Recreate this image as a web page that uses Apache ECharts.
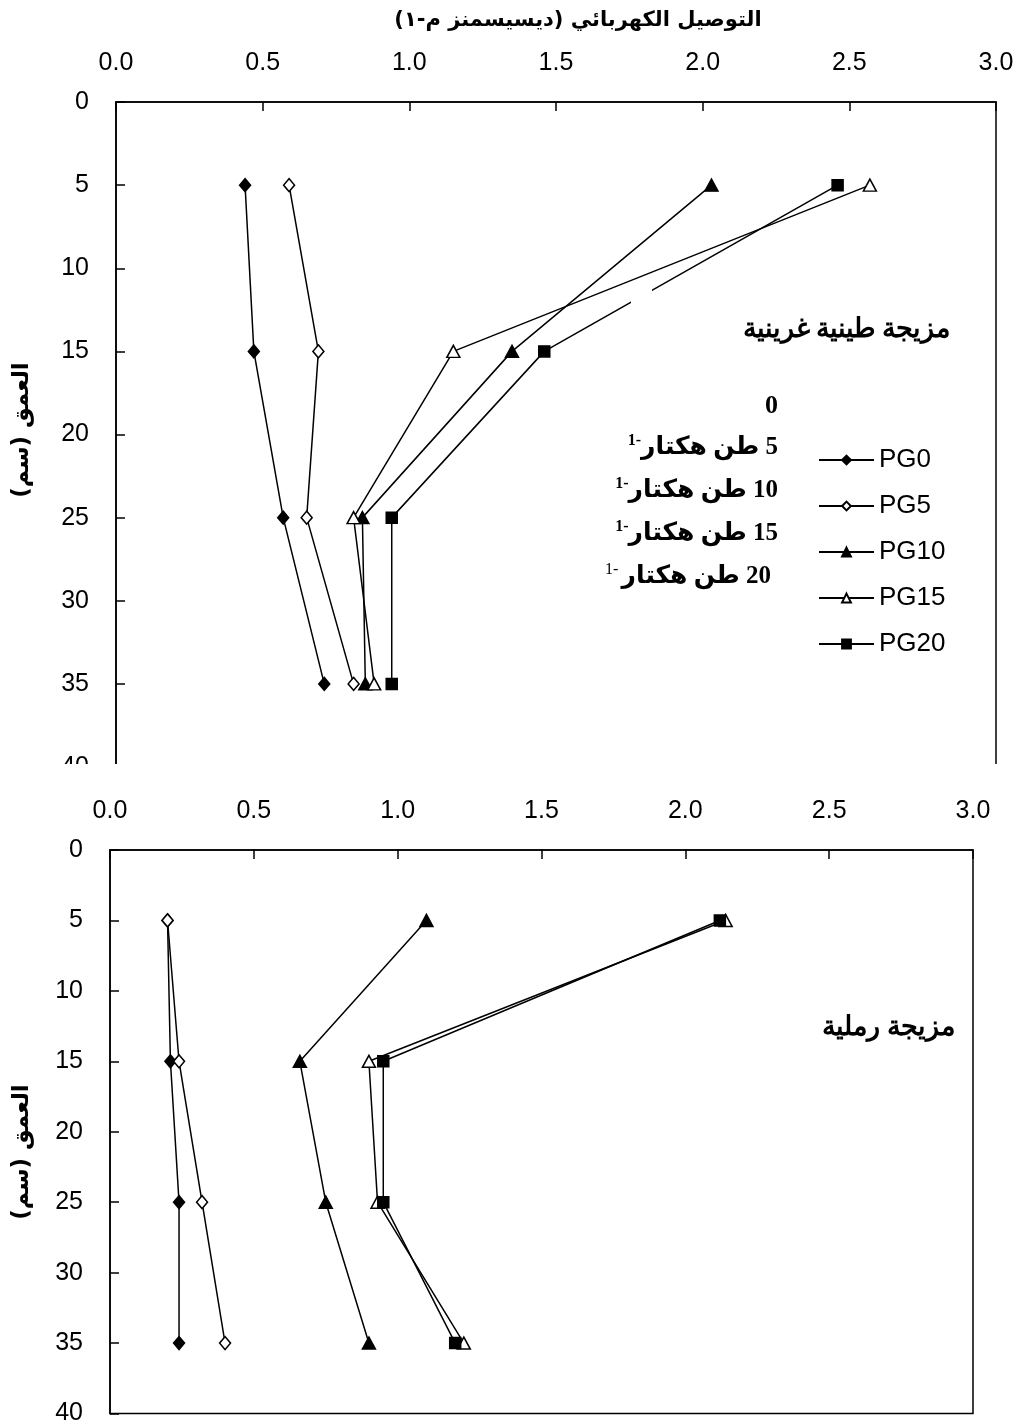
<!DOCTYPE html>
<html>
<head>
<meta charset="utf-8">
<script src="https://cdn.jsdelivr.net/npm/echarts@6/dist/echarts.min.js"></script>
<style>
html,body{margin:0;padding:0;background:#fff;}
#chart{width:1017px;height:1426px;}
</style>
</head>
<body>
<div id="chart"></div>
<script>
// ---- data ----
const depths = [5, 15, 25, 35];
const seriesNames = ['PG0', 'PG5', 'PG10', 'PG15', 'PG20'];
const xTickLabels = ['0.0', '0.5', '1.0', '1.5', '2.0', '2.5', '3.0'];
const yTickLabels = ['0', '5', '10', '15', '20', '25', '30', '35', '40'];

// top panel: clay-silt mixture
const loamPG0  = [0.44, 0.47, 0.57, 0.71];
const loamPG5  = [0.59, 0.69, 0.65, 0.81];
const loamPG10 = [2.03, 1.35, 0.84, 0.85];
const loamPG15 = [2.57, 1.15, 0.81, 0.88];
const loamPG20 = [2.46, 1.46, 0.94, 0.94];

// bottom panel: sandy mixture
const sandPG0  = [0.20, 0.21, 0.24, 0.24];
const sandPG5  = [0.20, 0.24, 0.32, 0.40];
const sandPG10 = [1.10, 0.66, 0.75, 0.90];
const sandPG15 = [2.14, 0.90, 0.93, 1.23];
const sandPG20 = [2.12, 0.95, 0.95, 1.20];

const xTitle = 'التوصيل الكهربائي (ديسيسمنز م-١)';
const yTitle = 'العمق (سم)';
const loamLabel = 'مزيجة طينية غرينية';
const sandLabel = 'مزيجة رملية';
const rateLines = ['5 طن هكتار', '10 طن هكتار', '15 طن هكتار', '20 طن هكتار'];
const rateZero = '0';
const supText = '1-';

const RLE = '\u202B', PDF = '\u202C';
const rtl = s => RLE + s + PDF;

// ---- styling ----
const markerStyles = {
  PG0:  {symbol: 'diamond',  size: [11, 13], fill: '#000'},
  PG5:  {symbol: 'diamond',  size: [11, 13], fill: '#fff'},
  PG10: {symbol: 'triangle', size: [13, 12], fill: '#000'},
  PG15: {symbol: 'triangle', size: [13, 12], fill: '#fff'},
  PG20: {symbol: 'rect',     size: [11, 11], fill: '#000'}
};

function mkSeries(name, vals, idx) {
  const m = markerStyles[name];
  return {
    name: name,
    type: 'line',
    xAxisIndex: idx, yAxisIndex: idx,
    data: depths.map((d, i) => [vals[i], d]),
    symbol: m.symbol,
    symbolSize: m.size,
    showAllSymbol: true,
    lineStyle: {color: '#000', width: 1.5},
    itemStyle: {color: m.fill, borderColor: '#000', borderWidth: 1.5},
    emphasis: {disabled: true},
    animation: false
  };
}

const tickFont = {fontSize: 25, color: '#000', fontFamily: 'Liberation Sans'};

function mkX(idx) {
  return {
    gridIndex: idx, type: 'value', position: 'top',
    min: 0, max: 3, interval: 0.5,
    axisLine: {show: true, lineStyle: {color: '#000', width: 1.5}},
    axisTick: {show: true, inside: true, length: 9, lineStyle: {color: '#000', width: 1.5}},
    axisLabel: Object.assign({margin: 26, formatter: v => xTickLabels[Math.round(v / 0.5)]}, tickFont),
    splitLine: {show: false}
  };
}
function mkY(idx) {
  return {
    gridIndex: idx, type: 'value', inverse: true,
    min: 0, max: 40, interval: 5,
    axisLine: {show: true, lineStyle: {color: '#000', width: 1.5}},
    axisTick: {show: true, inside: true, length: 9, lineStyle: {color: '#000', width: 1.5}},
    axisLabel: Object.assign({margin: 27, formatter: v => yTickLabels[Math.round(v / 5)]}, tickFont),
    splitLine: {show: false}
  };
}

const gridBase = {show: true, borderColor: '#000', borderWidth: 1.5, containLabel: false};

const serifBold = {fontFamily: '"Liberation Serif", "DejaVu Serif", serif', fontWeight: 'bold', fill: '#000'};

const rateTexts = rateLines.map((t, i) => ({
  type: 'text', x: i === 3 ? 771 : 778, y: 448 + i * 43, z: 50,
  style: {
    text: '{s|' + supText + '}' + (i === 3 ? ' ' : '') + '{m|' + rtl(t) + '}',
    align: 'right', verticalAlign: 'middle',
    rich: {
      s: {fontSize: 16, fontWeight: i === 3 ? 'normal' : 'bold', fontFamily: '"Liberation Serif", serif', verticalAlign: 'top', padding: [0, 0, 14, 0]},
      m: {fontSize: 25, fontWeight: 'bold', fontFamily: '"Liberation Serif", "DejaVu Sans", serif'}
    },
    fill: '#000'
  }
}));

const option = {
  backgroundColor: '#fff',
  animation: false,
  grid: [
    Object.assign({left: 116, top: 102, width: 880, height: 665}, gridBase),
    Object.assign({left: 110, top: 850, width: 863, height: 564}, gridBase)
  ],
  xAxis: [mkX(0), mkX(1)],
  yAxis: [mkY(0), mkY(1)],
  legend: {
    data: seriesNames, orient: 'vertical', left: 813, top: 442,
    itemWidth: 55, itemHeight: 11, itemGap: 20, selectedMode: false,
    textStyle: {fontSize: 26, lineHeight: 26, color: '#000', fontFamily: 'Liberation Sans'}
  },
  series: [
    mkSeries('PG0', loamPG0, 0), mkSeries('PG5', loamPG5, 0), mkSeries('PG10', loamPG10, 0),
    mkSeries('PG15', loamPG15, 0), mkSeries('PG20', loamPG20, 0),
    mkSeries('PG0', sandPG0, 1), mkSeries('PG5', sandPG5, 1), mkSeries('PG10', sandPG10, 1),
    mkSeries('PG15', sandPG15, 1), mkSeries('PG20', sandPG20, 1)
  ],
  graphic: [
    {type: 'rect', shape: {x: 0, y: 764, width: 1017, height: 30}, style: {fill: '#fff'}, z: 100},
    {type: 'rect', shape: {x: 631, y: 289, width: 21, height: 15}, style: {fill: '#fff'}, z: 100},
    {type: 'text', x: 578, y: 21, z: 50, style: {text: rtl(xTitle), align: 'center', verticalAlign: 'middle',
      fontSize: 21, fontWeight: 'bold', fontFamily: '"DejaVu Sans", sans-serif', fill: '#000'}},
    {type: 'text', x: 22, y: 430, rotation: Math.PI / 2, z: 50, style: {text: rtl(yTitle), align: 'center', verticalAlign: 'middle',
      fontSize: 23, fontWeight: 'bold', fontFamily: '"DejaVu Sans", sans-serif', fill: '#000'}},
    {type: 'text', x: 22, y: 1152, rotation: Math.PI / 2, z: 50, style: {text: rtl(yTitle), align: 'center', verticalAlign: 'middle',
      fontSize: 23, fontWeight: 'bold', fontFamily: '"DejaVu Sans", sans-serif', fill: '#000'}},
    {type: 'text', x: 950, y: 330, z: 50, style: Object.assign({text: rtl(loamLabel), align: 'right', verticalAlign: 'middle', fontSize: 27}, serifBold)},
    {type: 'text', x: 955, y: 1028, z: 50, style: Object.assign({text: rtl(sandLabel), align: 'right', verticalAlign: 'middle', fontSize: 27}, serifBold)},
    {type: 'text', x: 778, y: 406, z: 50, style: Object.assign({text: rateZero, align: 'right', verticalAlign: 'middle', fontSize: 26}, serifBold)}
  ].concat(rateTexts)
};

const chart = echarts.init(document.getElementById('chart'), null, {renderer: 'canvas'});
chart.setOption(option);
</script>
</body>
</html>
